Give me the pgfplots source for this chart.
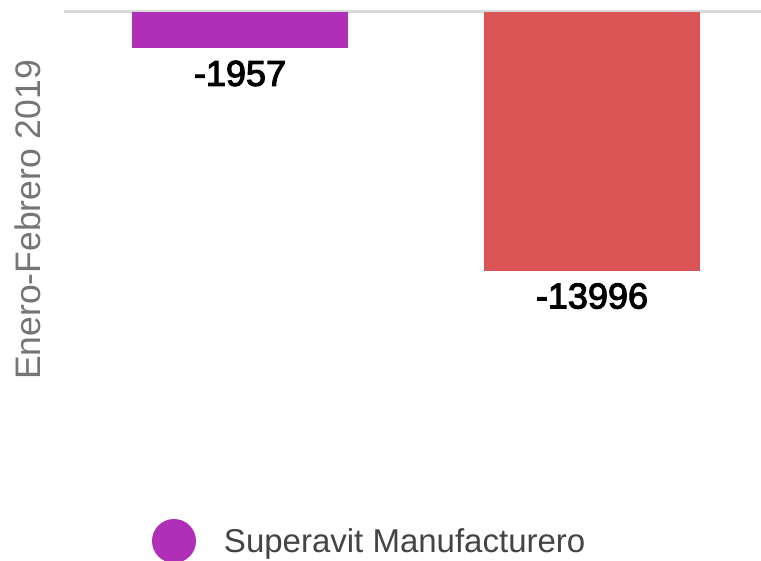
\documentclass[border=0pt]{standalone}
\usepackage{fontspec}
\setmainfont{Liberation Sans}
\newfontfamily\medfont[FakeBold=3]{Liberation Sans}
\usepackage{pgfplots}
\pgfplotsset{compat=1.18}
\definecolor{barpurple}{RGB}{176,47,185}
\definecolor{barred}{RGB}{218,84,85}
\definecolor{zeroline}{RGB}{217,217,217}
\definecolor{labelgray}{RGB}{117,117,117}
\definecolor{legendgray}{RGB}{68,68,68}
\begin{document}
\begin{tikzpicture}
\useasboundingbox (0pt,0pt) rectangle (761pt,-561pt);
\begin{axis}[
    at={(64pt,-12pt)}, anchor=north west,
    scale only axis, width=704pt, height=416pt,
    ybar, bar width=216pt, bar shift=0pt,
    xmin=-0.5, xmax=1.5, ymin=-22500, ymax=0,
    axis x line*=top, axis y line*=left,
    x axis line style={draw=zeroline, line width=3pt},
    y axis line style={draw=none},
    xtick=\empty, ytick=\empty,
    clip=false,
    ylabel={Enero-Febrero 2019},
    ylabel style={at={(axis description cs:-0.051,0.5)}, anchor=center,
        font=\fontsize{35.5}{40}\selectfont, text=labelgray},
    point meta=explicit symbolic,
    nodes near coords,
    nodes near coords style={font=\fontsize{36}{40}\medfont, text=black,
        anchor=north, yshift=-9pt},
    legend style={at={(axis description cs:0.125,-0.2716)}, anchor=west,
        draw=none, fill=none, inner sep=0pt, outer sep=0pt,
        font=\fontsize{33}{38}\selectfont, text=legendgray,
        /tikz/every odd column/.append style={column sep=26pt}},
]
\addplot[fill=barpurple, draw=none,
    legend image code/.code={\fill[barpurple] (0pt,0pt) circle (22pt);}]
    coordinates {(0,-1957) [-1957]};
\addlegendentry{Superavit Manufacturero}
\addplot[fill=barred, draw=none, forget plot] coordinates {(1,-13996) [-13996]};
\end{axis}
\end{tikzpicture}
\end{document}
